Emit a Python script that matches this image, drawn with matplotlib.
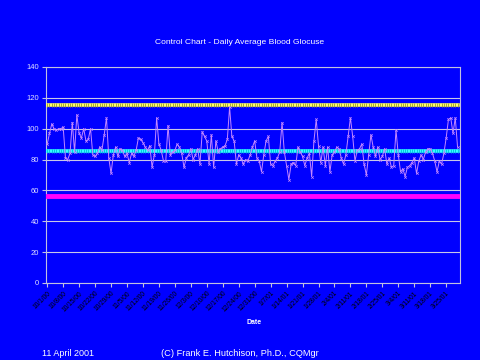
import numpy as np
import pandas as pd
import matplotlib
matplotlib.use("Agg")
import matplotlib.pyplot as plt
import matplotlib.dates as mdates

plt.rcParams['font.family'] = ['Liberation Sans', 'DejaVu Sans']

# daily average blood glucose (10/1/00 onwards)
glucose = [
    90, 97, 103, 100, 99, 100, 100, 101, 81, 80, 84, 104, 85, 109, 97, 94,
    100, 92, 93, 100, 83, 82, 84, 88, 86, 96, 107, 81, 71, 83, 88, 82,
    87, 86, 82, 84, 78, 84, 82, 86, 94, 93, 91, 88, 86, 89,
    75, 83, 107, 90, 86, 79, 79, 102, 83, 85, 86, 90, 88, 84, 75, 81,
    83, 87, 80, 83, 87, 77, 98, 95, 92, 77, 96, 75, 92, 85, 87, 88,
    89, 93, 114, 95, 92, 77, 83, 81, 77, 80, 79, 83, 88,
    92, 81, 79, 72, 83, 92, 95, 77, 76, 79, 81, 85, 104, 85, 76, 67,
    77, 78, 76, 88, 85, 82, 76, 81, 84, 69, 92, 106, 89, 78, 88, 76,
    88, 72, 83, 85, 88, 87, 81, 77, 83, 95, 107, 95, 79, 86,
    87, 90, 77, 70, 83, 96, 88, 82, 88, 80, 82, 87, 77, 81, 75, 76,
    99, 83, 72, 74, 69, 75, 76, 78, 81, 71, 79, 83, 80, 85, 87, 87,
    84, 79, 72, 79, 77, 84, 94, 106, 107, 97, 107, 88,
]
ucl = 115.2
center = 85.6
lcl = 56.4

dates = pd.date_range("2000-10-01", periods=len(glucose), freq="D")
tick_dates = pd.date_range("2000-10-01", "2001-03-25", freq="7D")
tick_labels = [f"{d.month}/{d.day}/{d.strftime('%y')}" for d in tick_dates]

bg = "#0000ff"
fig = plt.figure(figsize=(4.8, 3.6), dpi=100, facecolor=bg)
ax = fig.add_axes([0.096, 0.214, 0.862, 0.6])
ax.set_facecolor(bg)

ax.plot(dates, [ucl] * len(dates), color="#ffff66", lw=2.6,
        marker="|", ms=2.5, mec="#999933", mew=0.6, zorder=3)
ax.plot(dates, [center] * len(dates), color="#33ffff", lw=2.6,
        marker="|", ms=3, mec="#00bbdd", mew=0.6, zorder=3)
ax.plot(dates, [lcl] * len(dates), color="#ff00ff", lw=3.5, zorder=3)
ax.plot(dates, glucose, color="#c488ff", lw=0.7, marker="x", ms=1.8,
        mew=0.5, zorder=4)

ax.set_ylim(0, 140)
ax.set_yticks(range(0, 141, 20))
ax.set_xlim(dates[0] - pd.Timedelta(days=0.5), pd.Timestamp("2001-03-31"))
ax.set_xticks(tick_dates)
ax.set_xticklabels(tick_labels, rotation=45, ha="right", va="top",
                   rotation_mode="anchor", fontsize=4.8, color="black")
ax.tick_params(axis="x", length=3, color="#c0c0e0", width=0.8, pad=2)
ax.tick_params(axis="y", length=3, color="#c0c0e0", width=0.8,
               labelsize=5.5, labelcolor="#e0e0ff", pad=2)
ax.grid(axis="y", color="#c8c8e8", lw=0.8)
ax.set_axisbelow(True)
for s in ax.spines.values():
    s.set_color("#c0c0e0")
    s.set_linewidth(0.8)

fig.text(0.5, 0.883, "Control Chart - Daily Average Blood Glocuse",
         ha="center", va="center", color="white", fontsize=6.1)
fig.text(0.529, 0.105, "Date", ha="center", va="center", color="white",
         fontsize=5, fontweight="bold")
fig.text(0.087, 0.019, "11 April 2001", ha="left", va="center",
         color="white", fontsize=6.5)
fig.text(0.335, 0.019, "(C) Frank E. Hutchison, Ph.D., CQMgr", ha="left",
         va="center", color="white", fontsize=6.7)

fig.savefig("out.png", dpi=100, facecolor=bg)
